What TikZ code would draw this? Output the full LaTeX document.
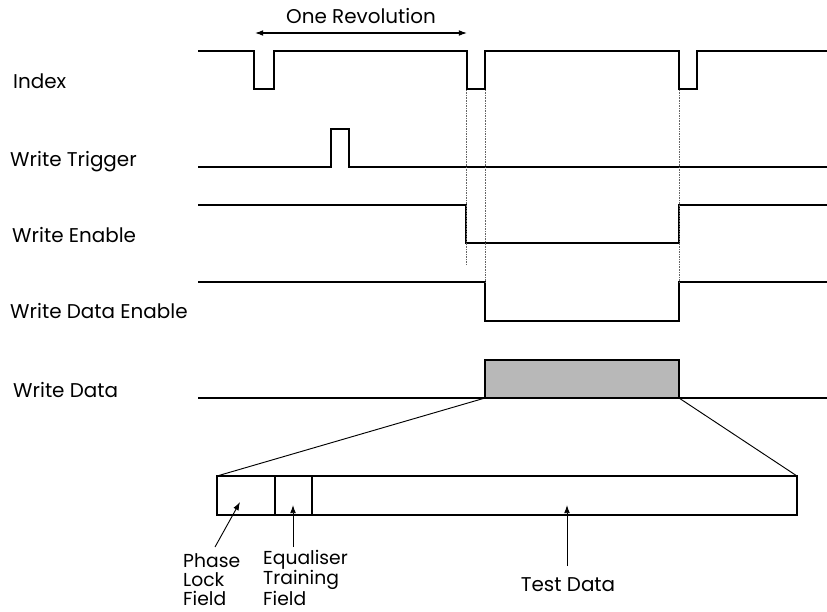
\documentclass[tikz,border=0pt]{standalone}
\usepackage{fontspec}
\setmainfont{Poppins}
\usetikzlibrary{arrows.meta, calc}

\begin{document}
\begin{tikzpicture}[x=0.3mm, y=-0.3mm,
    >={Latex[length=7pt, width=5pt]}, % small filled arrow heads
    font=\fontsize{17}{19}\selectfont,
    wave/.style={line width=1.3pt, line join=miter},
    guide/.style={densely dotted, line width=0.4pt, black!60},
    sig/.style={anchor=base west, inner sep=0pt},
    field/.style={anchor=base west, align=left, inner sep=0pt, font=\fontsize{16}{16}\selectfont},
    pointer/.style={->, line width=0.8pt}
]
\useasboundingbox (0,0) rectangle (827,611);

% 1. Signal names
\node[sig] (index)   at (13,88)  {Index};
\node[sig] (trigger) at (10,166) {Write Trigger};
\node[sig] (wenable) at (12,242) {Write Enable};
\node[sig] (denable) at (10,318) {Write Data Enable};
\node[sig] (wdata)   at (13,397) {Write Data};

% 2. One revolution
\coordinate (rev1) at (255,33);
\coordinate (rev2) at (467,33);
\draw[<->, line width=1pt] (rev1) -- (rev2) node[midway, above=4pt] {One Revolution};

% 3. Waveforms
\draw[wave] (198,51) -- (254,51) -- (254,89) -- (274,89) -- (274,51) -- (467,51) -- (467,89)
    -- (485,89) -- (485,51) -- (679,51) -- (679,89) -- (697,89) -- (697,51) -- (827,51);
\draw[wave] (198,167) -- (331,167) -- (331,129) -- (349,129) -- (349,167) -- (827,167);
\draw[wave] (198,205) -- (466,205) -- (466,243) -- (679,243) -- (679,205) -- (827,205);
\draw[wave] (198,282) -- (485,282) -- (485,321) -- (679,321) -- (679,282) -- (827,282);
\draw[wave] (198,398) -- (485,398);
\draw[wave] (679,398) -- (827,398);
\draw[wave, fill=black!28] (485,360) rectangle (679,398);

% 4. Dotted guide lines
\draw[guide] (466,90) -- (466,265);
\draw[guide] (485,90) -- (485,282);
\draw[guide] (679,90) -- (679,282);

% 5. Expanded write data block
\draw[line width=0.8pt] (485,398) -- (217,476);
\draw[line width=0.8pt] (679,398) -- (797,476);
\draw[line width=0.9pt] (217,476) rectangle (797,515);
\draw[line width=0.9pt] (275,476) -- (275,515);
\draw[line width=0.9pt] (312,476) -- (312,515);

% 6. Field names
\node[field] (phase) at (183,605) {Phase\\Lock\\Field};
\node[field] (equal) at (263,605) {Equaliser\\Training\\Field};
\node[anchor=base, inner sep=0pt] (test) at (568,591) {Test Data};

\coordinate (phaseTip) at (240,502);
\coordinate (equalTip) at (293,505);
\coordinate (testTip)  at (567,505);
\draw[pointer] (215,547) -- (phaseTip);
\draw[pointer] (293,547) -- (equalTip);
\draw[pointer] (567,566) -- (testTip);

\end{tikzpicture}
\end{document}
